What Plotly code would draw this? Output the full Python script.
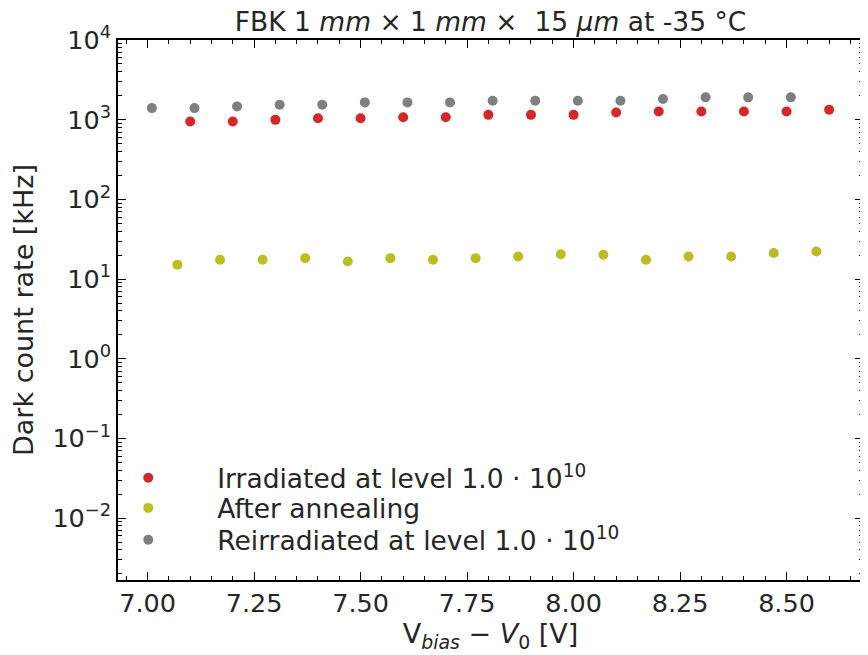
import plotly.graph_objects as go

x_irr = [7.1, 7.2, 7.3, 7.4, 7.5, 7.6, 7.7, 7.8, 7.9, 8.0, 8.1, 8.2, 8.3, 8.4, 8.5, 8.6]
y_irr = [950, 950, 995, 1045, 1045, 1075, 1075, 1150, 1150, 1150, 1233, 1270, 1270, 1270, 1270, 1330]

x_ann = [7.07, 7.17, 7.27, 7.37, 7.47, 7.57, 7.67, 7.77, 7.87, 7.97, 8.07, 8.17, 8.27, 8.37, 8.47, 8.57]
y_ann = [15.1, 17.5, 17.5, 18.3, 16.6, 18.3, 17.5, 18.3, 19.2, 20.5, 20.2, 17.5, 19.2, 19.2, 21.2, 22.2]

x_reirr = [7.01, 7.11, 7.21, 7.31, 7.41, 7.51, 7.61, 7.71, 7.81, 7.91, 8.01, 8.11, 8.21, 8.31, 8.41, 8.51]
y_reirr = [1397, 1397, 1468, 1538, 1538, 1649, 1649, 1649, 1728, 1728, 1728, 1728, 1815, 1906, 1906, 1906]

names = ["Irradiated at level 1.0 · 10<sup>10</sup>", "After annealing",
         "Reirradiated at level 1.0 · 10<sup>10</sup>"]
colors = ["#d62728", "#bcbd22", "#7f7f7f"]

xtick_vals = [7.0, 7.25, 7.5, 7.75, 8.0, 8.25, 8.5]
xtick_text = ["7.00", "7.25", "7.50", "7.75", "8.00", "8.25", "8.50"]
ytick_vals = [1e-2, 1e-1, 1, 10, 100, 1000, 10000]
ytick_text = ["10<sup>−2</sup>", "10<sup>−1</sup>", "10<sup>0</sup>", "10<sup>1</sup>",
              "10<sup>2</sup>", "10<sup>3</sup>", "10<sup>4</sup>"]
minor_vals = [k * 10 ** e for e in range(-3, 4) for k in range(2, 10)]

font = "DejaVu Sans"
txt = "#262626"
legend_ids = ["legend", "legend2", "legend3"]
legend_y = [0.189, 0.133, 0.074]

fig = go.Figure()
for xs, ys, nm, c, lg in [(x_irr, y_irr, names[0], colors[0], legend_ids[0]),
                          (x_ann, y_ann, names[1], colors[1], legend_ids[1]),
                          (x_reirr, y_reirr, names[2], colors[2], legend_ids[2])]:
    fig.add_trace(go.Scatter(x=xs, y=ys, mode="markers", name=nm, legend=lg,
                             marker=dict(color=c, size=10, line=dict(width=0))))

leg_common = dict(x=-0.052, xanchor="left", yanchor="middle",
                  bgcolor="rgba(255,255,255,0)", borderwidth=0,
                  font=dict(family=font, size=26.5, color=txt), itemwidth=128)

fig.update_layout(
    width=860, height=647,
    margin=dict(l=110, r=5, t=32, b=75, autoexpand=False),
    paper_bgcolor="white", plot_bgcolor="white",
    font=dict(family=font, size=25, color=txt),
    title=dict(text="FBK 1 <i>mm</i> × 1 <i>mm</i> ×  15 <i>μm</i> at -35 °C",
               x=0.5, xanchor="center", xref="paper", y=0.979, yanchor="middle",
               font=dict(family=font, size=26.5, color=txt)),
    showlegend=True,
    legend=dict(y=legend_y[0], **leg_common),
    legend2=dict(y=legend_y[1], **leg_common),
    legend3=dict(y=legend_y[2], **leg_common),
)

fig.update_xaxes(
    range=[6.9305, 8.6795], showgrid=False, zeroline=False, automargin=False,
    showline=True, linecolor="black", linewidth=1.5, mirror="ticks",
    ticks="inside", ticklen=8, tickwidth=1.2, tickcolor="black",
    tickvals=xtick_vals, ticktext=xtick_text,
    tickfont=dict(family=font, size=25.5, color=txt),
    minor=dict(dtick=0.05, tick0=7.0, ticks="inside", ticklen=4, tickwidth=1, tickcolor="black", showgrid=False),
    title=dict(text="V<sub><i>bias</i></sub> − <i>V</i><sub>0</sub> [V]", standoff=4,
               font=dict(family=font, size=27, color=txt)),
)
fig.update_yaxes(
    type="log", range=[-2.776, 4], showgrid=False, zeroline=False, automargin=False,
    showline=True, linecolor="black", linewidth=1.5, mirror="ticks",
    ticks="inside", ticklen=8, tickwidth=1.2, tickcolor="black",
    tickvals=ytick_vals, ticktext=ytick_text,
    tickfont=dict(family=font, size=25.5, color=txt),
    minor=dict(tickvals=minor_vals, ticks="inside", ticklen=4, tickwidth=1, tickcolor="black", showgrid=False),
    title=dict(text="Dark count rate [kHz]", standoff=15,
               font=dict(family=font, size=27, color=txt)),
)

fig.write_html("out.html")
